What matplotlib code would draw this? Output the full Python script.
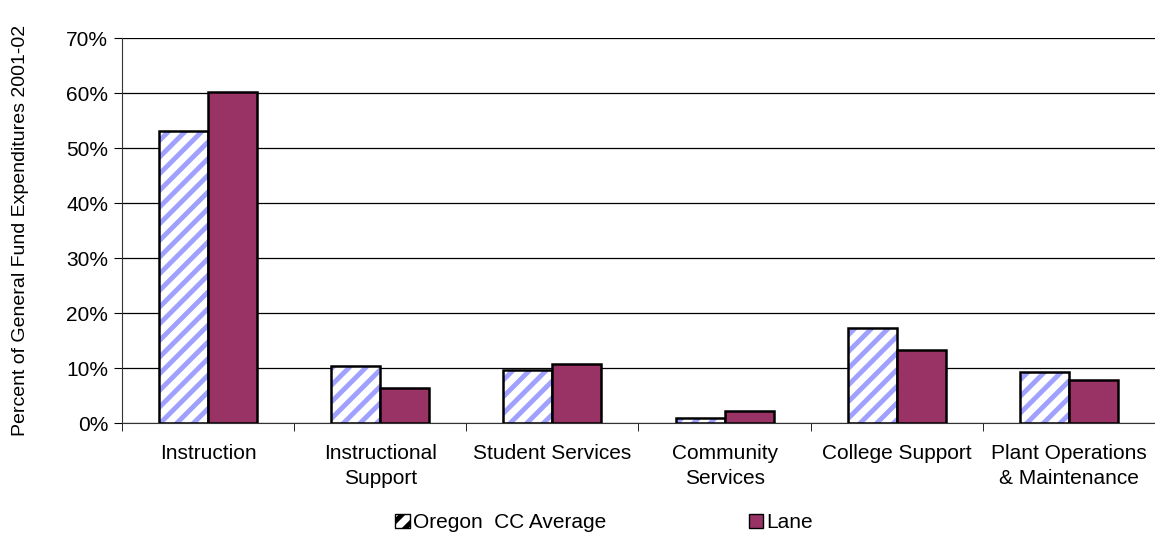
import matplotlib.pyplot as plt
import numpy as np
from matplotlib.patches import Patch

plt.rcParams['font.family'] = ['Liberation Sans', 'DejaVu Sans']
plt.rcParams['hatch.linewidth'] = 3.5

categories = ['Instruction', 'Instructional\nSupport', 'Student Services',
              'Community\nServices', 'College Support',
              'Plant Operations\n& Maintenance']
oregon_avg = [53.1, 10.4, 9.7, 0.85, 17.3, 9.2]
lane = [60.2, 6.4, 10.8, 2.2, 13.2, 7.8]

hatch_blue = '#a0a0ff'
lane_color = '#993366'
fs = 15

fig = plt.figure(figsize=(11.55, 5.35), dpi=100)
ax = fig.add_axes([0.1056, 0.2093, 0.8944, 0.7196])

x = np.arange(len(categories))
w = 0.285

# hatched bars: stripes first, then a black outline on top
ax.bar(x - w / 2, oregon_avg, w, color='white', edgecolor=hatch_blue,
       hatch='//', linewidth=0, zorder=2)
ax.bar(x - w / 2, oregon_avg, w, fill=False, edgecolor='black',
       linewidth=1.8, zorder=3)
ax.bar(x + w / 2, lane, w, color=lane_color, edgecolor='black',
       linewidth=1.8, zorder=3)

ax.set_xlim(-0.5, len(categories) - 0.5)
ax.set_ylim(0, 70)
ax.set_yticks(range(0, 71, 10))
ax.set_yticklabels([f'{v}%' for v in range(0, 71, 10)], fontsize=fs)
ax.yaxis.grid(True, color='black', linewidth=0.9, zorder=0)
ax.set_axisbelow(True)

ax.set_xticks(x)
ax.set_xticklabels(categories, fontsize=fs, linespacing=1.4)
ax.tick_params(axis='x', length=0, pad=15)
ax.set_xticks(np.arange(-0.5, len(categories)), minor=True)
ax.tick_params(axis='x', which='minor', length=6, direction='out')
ax.tick_params(axis='y', length=6, direction='out', pad=4)

for side in ['top', 'right']:
    ax.spines[side].set_visible(False)
ax.spines['left'].set_color('#333333')
ax.spines['bottom'].set_color('#333333')

ax.set_ylabel('Percent of General Fund Expenditures 2001-02', fontsize=14,
              labelpad=27)

handles = [Patch(facecolor='white', edgecolor='black', hatch='//'),
           Patch(facecolor=lane_color, edgecolor='black')]
leg = fig.legend(handles, ['Oregon  CC Average', 'Lane'], ncol=2,
                 loc='lower center', bbox_to_anchor=(0.523, -0.03),
                 frameon=False, fontsize=fs, handlelength=0.7,
                 handleheight=0.7, handletextpad=0.15, columnspacing=6.86)

fig.savefig('out.png', dpi=100)
